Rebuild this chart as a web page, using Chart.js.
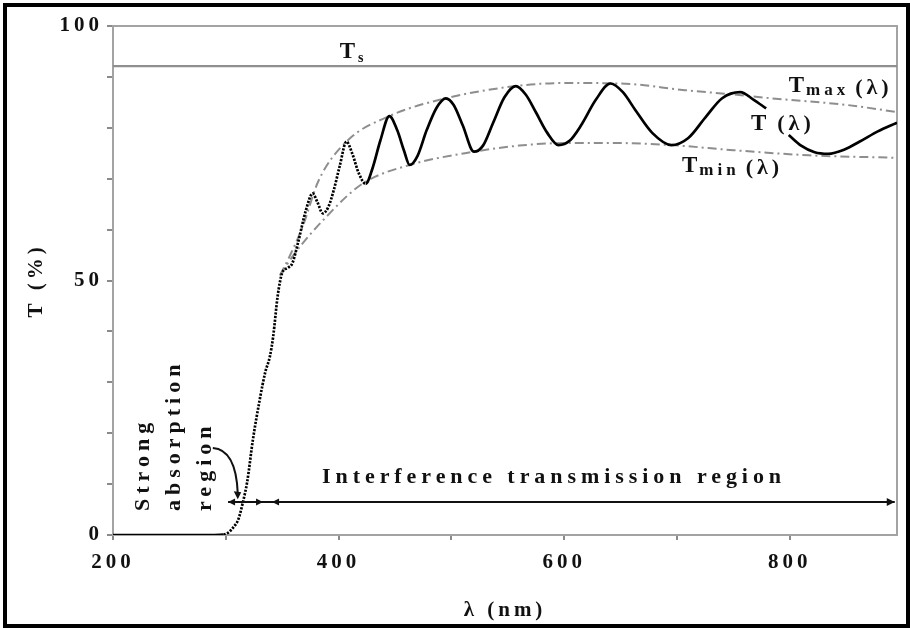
<!DOCTYPE html>
<html><head><meta charset="utf-8">
<script src="https://cdn.jsdelivr.net/npm/chart.js@4.4.1/dist/chart.umd.min.js"></script>
<style>html,body{margin:0;padding:0;background:#fff}canvas{display:block}</style>
</head><body>
<canvas id="c" width="910" height="628"></canvas>
<script>
// ---- data ----
const wavelength = [200,230,260,290,298,303,307,311,315,319,324,330,335,339,342,346,350,355,359,364,371,377,381,386,391,396,401,407,412,418,424,430,437,445,452,458,463,470,478,487,495,502,510,520,528,537,547,557,566,575,585,595,605,615,628,641,652,663,678,695,710,725,740,756,768,779,789,799,810,822,834,848,862,878,895];
const transmission = [0,0,0,0,0.1,0.6,1.6,3,6.3,10.5,18.7,26.5,32,35,39,47,51.5,52.5,53.4,57.4,63.8,67.1,65.5,63.2,64.5,68,72.5,77.3,75,71,69,72,77.5,82.3,79.5,75.5,72.7,74.5,79.5,84,85.8,84.5,80.5,75.3,76.5,81,86,88.2,86.5,83,79,76.6,77.5,80.5,85.5,88.7,87,83.5,79,76.6,78,82,85.8,87,85.5,83.8,null,78.6,76.5,75.2,74.9,75.7,77.3,79.3,81];
const tmaxWavelength = [348,356,368,382,407,445,495,557,600,650,707,757,783,850,895];
const tmaxValues = [51,54.5,60.5,69.5,77.3,82.3,85.8,88.2,88.8,88.7,87.4,86.4,85.8,84.5,83.1];
const tminWavelength = [348,360,389,421,463,520,560,600,650,695,750,817,895];
const tminValues = [51,55,62.5,69,72.7,75.3,76.5,77,77,76.6,75.6,74.6,74.1];
const substrateT = 92.1;
const substrateRange = [200,895];
const xTickValues = [200,300,400,500,600,700,800];
const xTickLabels = [200,400,600,800];
const yTickLabels = [0,50,100];
const absorptionArrow = [302,333];
const interferenceArrow = [341,893];
const arrowLevel = 6.5;

const SERIF = '"Liberation Serif","Times New Roman",serif';
const pts = (xs, ys) => xs.map((x,i)=>({x, y: ys[i]}));

function richText(ctx, x, y, parts){
  let cx = x;
  for (const p of parts){
    ctx.font = 'bold ' + p.size + 'px ' + SERIF;
    ctx.fillText(p.t, cx + (p.dx||0), y + (p.dy||0));
    cx += (p.dx||0) + ctx.measureText(p.t).width;
  }
}
function arrowHead(ctx, x, y, dir, len, half){
  ctx.beginPath();
  ctx.moveTo(x, y);
  ctx.lineTo(x - dir*len, y - half);
  ctx.lineTo(x - dir*len, y + half);
  ctx.closePath(); ctx.fill();
}

const decor = {
  id:'decor',
  beforeDraw(chart){ chart.ctx.letterSpacing = '4px'; },
  beforeDatasetsDraw(chart){
    const {ctx, chartArea:a} = chart;
    ctx.save();
    ctx.strokeStyle = '#a3a3a3'; ctx.lineWidth = 2;
    ctx.strokeRect(a.left, a.top, a.right-a.left, a.bottom-a.top);
    ctx.restore();
  },
  afterDraw(chart){
    const ctx = chart.ctx, xs = chart.scales.x, ys = chart.scales.y;
    const X = v => xs.getPixelForValue(v), Y = v => ys.getPixelForValue(v);
    ctx.save();
    ctx.fillStyle = '#111'; ctx.strokeStyle = '#111';
    ctx.textBaseline = 'alphabetic'; ctx.textAlign = 'left';
    ctx.letterSpacing = '4px';
    // labels of curves
    richText(ctx, X(401), Y(93.9)+0.5, [{t:'T',size:23},{t:'s',size:14,dy:4,dx:-1}]);
    richText(ctx, X(799), Y(87.0), [{t:'T',size:23},{t:'max',size:17,dy:3,dx:-2},{t:'(λ)',size:22,dy:2,dx:6}]);
    richText(ctx, X(765.5), Y(79.6), [{t:'T',size:23},{t:'(λ)',size:22,dx:7}]);
    richText(ctx, X(704.4), Y(71.3), [{t:'T',size:23},{t:'min',size:17,dy:3,dx:-2},{t:'(λ)',size:22,dy:2,dx:6}]);
    // horizontal region arrows
    const ay = Y(arrowLevel);
    ctx.lineWidth = 2;
    ctx.beginPath();
    ctx.moveTo(X(absorptionArrow[0]), ay); ctx.lineTo(X(interferenceArrow[1]), ay); ctx.stroke();
    arrowHead(ctx, X(absorptionArrow[0]), ay, -1, 7, 3.5);
    arrowHead(ctx, X(absorptionArrow[1]), ay, 1, 7, 3.5);
    arrowHead(ctx, X(interferenceArrow[0]), ay, -1, 7, 3.5);
    arrowHead(ctx, X(interferenceArrow[1]), ay, 1, 8, 4);
    // curved pointer
    const sx = X(288.5), sy = Y(17.1), ex = X(310.6), ey = Y(8.2);
    ctx.beginPath(); ctx.moveTo(sx, sy);
    ctx.quadraticCurveTo(X(309), Y(16.8), ex, ey); ctx.stroke();
    ctx.beginPath(); ctx.moveTo(ex, ey+6); ctx.lineTo(ex-4, ey-2); ctx.lineTo(ex+3.5, ey-1); ctx.closePath(); ctx.fill();
    // region texts
    ctx.font = 'bold 22px ' + SERIF;
    const it = 'Interference transmission region';
    ctx.letterSpacing = '0px';
    const w0 = ctx.measureText(it).width;
    const sp = (464 - w0) / (it.length);
    ctx.letterSpacing = sp.toFixed(2) + 'px';
    ctx.textAlign = 'left';
    ctx.fillText(it, 322, Y(10.2));
    ctx.letterSpacing = '5px';
    const col = [['Strong',143],['absorption',174],['region',205]];
    ctx.textBaseline = 'middle';
    for (const [t,x] of col){
      ctx.save(); ctx.translate(x, 511); ctx.rotate(-Math.PI/2);
      ctx.fillText(t, 0, 0); ctx.restore();
    }
    // outer frame
    ctx.strokeStyle = '#000'; ctx.lineWidth = 4;
    ctx.strokeRect(5, 5, 903, 621);
    ctx.restore();
    ctx.letterSpacing = '0px';
  }
};

const tickFont = {family: SERIF, size: 21, weight: 'bold'};
new Chart(document.getElementById('c'), {
  type: 'line',
  data: { datasets: [
    {label:'T(λ)', data: pts(wavelength, transmission), borderColor:'#000', borderWidth:2.7, pointRadius:0,
     cubicInterpolationMode:'monotone', spanGaps:false, order:0,
     segment:{borderDash: c => (c.p0.parsed.x >= 296 && c.p0.parsed.x < 424) ? [2.2,1.4] : undefined}},
    {label:'Tmax(λ)', data: pts(tmaxWavelength, tmaxValues), borderColor:'#8e8e8e', borderWidth:2, borderDash:[9,4,2,4],
     pointRadius:0, cubicInterpolationMode:'monotone', order:1},
    {label:'Tmin(λ)', data: pts(tminWavelength, tminValues), borderColor:'#8e8e8e', borderWidth:2, borderDash:[9,4,2,4],
     pointRadius:0, cubicInterpolationMode:'monotone', order:1},
    {label:'Ts', data: pts(substrateRange, [substrateT, substrateT]), borderColor:'#8f8f8f', borderWidth:2.2, pointRadius:0, order:2}
  ]},
  options: {
    responsive:false, animation:false, devicePixelRatio:1,
    layout:{padding:{left:0,right:13,top:26,bottom:0}},
    plugins:{legend:{display:false}, tooltip:{enabled:false}},
    scales:{
      x:{type:'linear', min:200, max:895,
        afterBuildTicks: s => { s.ticks = xTickValues.map(v => ({value:v})); },
        afterFit: s => { s.height = 93; },
        ticks:{callback: v => xTickLabels.includes(v) ? String(v) : '', font:tickFont, color:'#111', maxRotation:0, autoSkip:false, padding:10},
        grid:{drawOnChartArea:false, tickLength:5, color:'#8a8a8a', lineWidth:2},
        border:{color:'#a3a3a3', width:2},
        title:{display:true, text:'λ (nm)', font:{family:SERIF,size:21,weight:'bold'}, color:'#111', padding:{top:0,bottom:5}}},
      y:{min:0, max:100,
        afterFit: s => { s.width = 113; },
        ticks:{stepSize:10, callback: v => yTickLabels.includes(v) ? String(v) : '', font:tickFont, color:'#111', autoSkip:false, padding:4},
        grid:{drawOnChartArea:false, tickLength:6, color:'#8a8a8a', lineWidth:2},
        border:{color:'#a3a3a3', width:2},
        title:{display:true, text:'T (%)', font:{family:SERIF,size:21,weight:'bold'}, color:'#111', padding:{top:24,bottom:0}}}
    }
  },
  plugins:[decor]
});
</script>
</body></html>
